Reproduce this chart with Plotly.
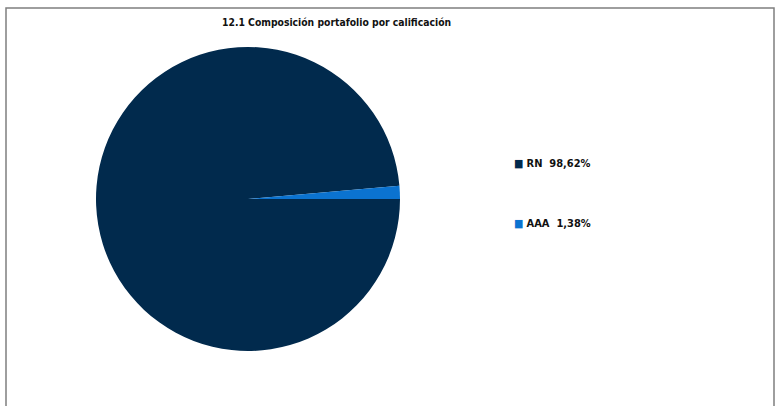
import plotly.graph_objects as go

categories = ["RN", "AAA"]
values = [98.62, 1.38]
colors = ["#012A4D", "#0B73D0"]
title_text = "12.1 Composición portafolio por calificación"

W, H = 783, 406
FONT = "Liberation Sans Narrow, DejaVu Sans Condensed, Arial Narrow, sans-serif"

fig = go.Figure(go.Pie(
    labels=categories,
    values=values,
    marker=dict(colors=colors, line=dict(width=0)),
    sort=False,
    direction="clockwise",
    rotation=90,
    textinfo="none",
    hoverinfo="label+percent",
    showlegend=False,
    domain=dict(x=[96 / W, 400 / W], y=[1 - 351 / H, 1 - 47 / H]),
))

def fmt(v):
    return f"{v:.2f}%".replace(".", ",")

annotations = [dict(
    text=f"<b>{title_text}</b>", x=336 / W, y=1 - 22 / H, xref="paper", yref="paper",
    showarrow=False, xanchor="center", yanchor="middle",
    font=dict(family=FONT, size=10.3, color="#111111"),
)]
leg_y = [163, 223]
for cat, v, c, yy in zip(categories, values, colors, leg_y):
    annotations.append(dict(
        text=f"<span style='color:{c}'>■</span> <b>{cat}  {fmt(v)}</b>",
        x=512 / W, y=1 - yy / H, xref="paper", yref="paper",
        showarrow=False, xanchor="left", yanchor="middle",
        font=dict(family=FONT, size=11, color="#111111"),
    ))

fig.update_layout(
    width=W, height=H,
    margin=dict(l=0, r=0, t=0, b=0),
    paper_bgcolor="white",
    plot_bgcolor="white",
    annotations=annotations,
    shapes=[dict(type="rect", xref="paper", yref="paper",
                 x0=6 / W, x1=774 / W, y0=-0.05, y1=1 - 8 / H,
                 line=dict(color="#7F7F7F", width=1.5), fillcolor="rgba(0,0,0,0)")],
)

fig.write_html("out.html", config={"displayModeBar": False},
               post_script="document.body.style.margin='0';")
